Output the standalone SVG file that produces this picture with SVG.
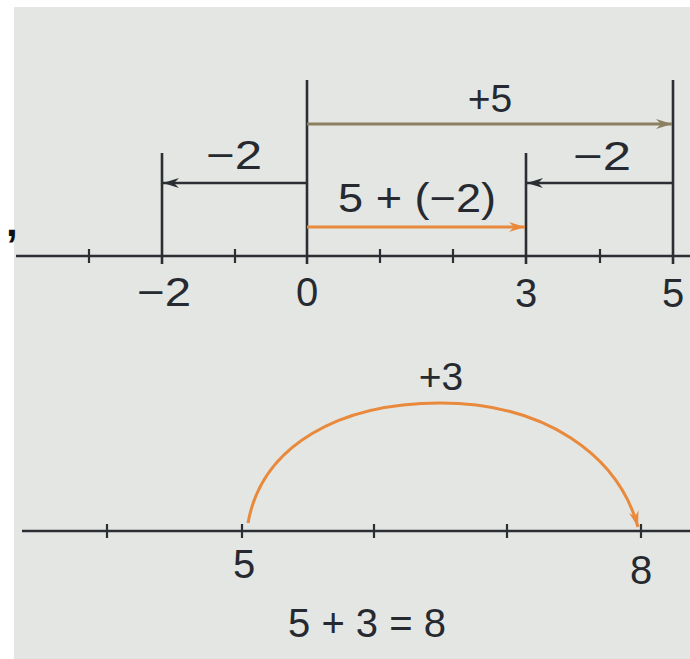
<svg xmlns="http://www.w3.org/2000/svg" width="690" height="659" viewBox="0 0 690 659">
<defs>
<style>
.ln{stroke:#2b2f34;stroke-width:2.6;fill:none;stroke-linecap:butt}
.tk{stroke:#2b2f34;stroke-width:2.2}
.or{stroke:#e8893c;stroke-width:3;fill:none}
.br{stroke:#8c7f62;stroke-width:3;fill:none}
text{font-family:"Liberation Sans",Arial,sans-serif;fill:#262a30}
.n{font-size:40px;text-anchor:middle}
.s{font-size:39px;text-anchor:middle}
</style>
<marker id="aBlk" viewBox="0 0 16 10" refX="16" refY="5" markerWidth="16" markerHeight="10" markerUnits="userSpaceOnUse" orient="auto">
<path d="M0,0 L16,5 L0,10 L5,5 z" fill="#2b2f34"/>
</marker>
<marker id="aOr" viewBox="0 0 16 10" refX="16" refY="5" markerWidth="16" markerHeight="10" markerUnits="userSpaceOnUse" orient="auto">
<path d="M0,0 L16,5 L0,10 L5,5 z" fill="#e8893c"/>
</marker>
<marker id="aBr" viewBox="0 0 16 10" refX="16" refY="5" markerWidth="16" markerHeight="10" markerUnits="userSpaceOnUse" orient="auto">
<path d="M0,0 L16,5 L0,10 L5,5 z" fill="#8c7f62"/>
</marker>
</defs>
<rect x="0" y="0" width="690" height="659" fill="#ffffff"/>
<rect x="14" y="7" width="676" height="652" fill="#e4e6e3"/>
<text x="6" y="236" style="font-size:42px;font-weight:bold;fill:#111">,</text>

<g id="axis-top">
<line class="ln" x1="16" y1="256" x2="690" y2="256"/>
<line class="tk" x1="89" y1="249" x2="89" y2="263"/>
<line class="tk" x1="235" y1="249" x2="235" y2="263"/>
<line class="tk" x1="380" y1="249" x2="380" y2="263"/>
<line class="tk" x1="453" y1="249" x2="453" y2="263"/>
<line class="tk" x1="600" y1="249" x2="600" y2="263"/>
<line class="ln" x1="162" y1="153" x2="162" y2="264"/>
<line class="ln" x1="307" y1="80" x2="307" y2="264"/>
<line class="ln" x1="526" y1="153" x2="526" y2="264"/>
<line class="ln" x1="673" y1="80" x2="673" y2="264"/>
</g>
<g id="labels-top">
<text class="n" x="164" y="306" textLength="54" lengthAdjust="spacingAndGlyphs">−2</text>
<text class="n" x="307" y="306">0</text>
<text class="n" x="526" y="307">3</text>
<text class="n" x="673" y="307">5</text>
</g>
<g id="connectors">
<line class="br" x1="307" y1="124" x2="672" y2="124" marker-end="url(#aBr)"/>
<line class="ln" x1="307" y1="183" x2="163" y2="183" marker-end="url(#aBlk)"/>
<line class="ln" x1="673" y1="183" x2="527" y2="183" marker-end="url(#aBlk)"/>
<line class="or" x1="307" y1="227" x2="525" y2="227" marker-end="url(#aOr)"/>
<path class="or" d="M248,523 C262,445 340,403 440,403 C545,403 618,455 638,527" marker-end="url(#aOr)"/>
</g>
<g id="arrow-labels">
<text class="s" x="490" y="112">+5</text>
<text class="n" x="234" y="169" textLength="56" lengthAdjust="spacingAndGlyphs">−2</text>
<text class="n" x="602" y="170" textLength="58" lengthAdjust="spacingAndGlyphs">−2</text>
<text class="n" x="417" y="212" textLength="158" lengthAdjust="spacingAndGlyphs">5 + (−2)</text>
<text class="s" x="441" y="390">+3</text>
</g>

<g id="axis-bottom">
<line class="ln" x1="22" y1="531" x2="690" y2="531"/>
<line class="tk" x1="107" y1="524" x2="107" y2="538"/>
<line class="tk" x1="242" y1="524" x2="242" y2="538"/>
<line class="tk" x1="374" y1="524" x2="374" y2="538"/>
<line class="tk" x1="507" y1="524" x2="507" y2="538"/>
<line class="tk" x1="641" y1="524" x2="641" y2="538"/>
</g>
<g id="labels-bottom">
<text class="n" x="244" y="578">5</text>
<text class="n" x="641" y="584">8</text>
<text class="n" x="367" y="637">5 + 3 = 8</text>
</g>
</svg>
